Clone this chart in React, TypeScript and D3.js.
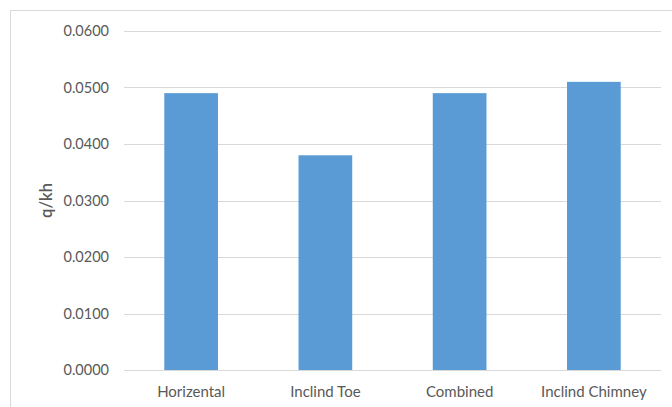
import React from "react";
import * as d3 from "d3";

const categories = ["Horizental", "Inclind Toe", "Combined", "Inclind Chimney"];
const values = [0.049, 0.038, 0.049, 0.051];
const yTicks = [0, 0.01, 0.02, 0.03, 0.04, 0.05, 0.06];
const yTitle = "q/kh";

const W = 672;
const H = 407;
const margin = { left: 124, right: 11, top: 31, bottom: 37 };

export default function App() {
  const x = d3
    .scaleBand<string>()
    .domain(categories)
    .range([margin.left, W - margin.right])
    .paddingInner(0.6)
    .paddingOuter(0.3);
  const y = d3.scaleLinear().domain([0, 0.06]).range([H - margin.bottom, margin.top]);
  const fmt = d3.format(".4f");
  const font = "Lato, 'Open Sans', sans-serif";
  const textColor = "#595959";

  return (
    <svg
      width={W}
      height={H}
      style={{ position: "absolute", left: 0, top: 0, background: "#fff" }}
      fontFamily={font}
    >
      <rect x={10.5} y={10.5} width={W + 20} height={H + 20} fill="#fff" stroke="#D9D9D9" strokeWidth={1} />
      {yTicks.map((t) => (
        <g key={t}>
          <line
            x1={margin.left}
            x2={W - margin.right}
            y1={Math.round(y(t)) + 0.5}
            y2={Math.round(y(t)) + 0.5}
            stroke="#D9D9D9"
            strokeWidth={1}
          />
          <text x={109} y={y(t)} dy="0.35em" textAnchor="end" fontSize={14.5} fill={textColor}>
            {fmt(t)}
          </text>
        </g>
      ))}
      {categories.map((c, i) => (
        <rect
          key={c}
          x={x(c)}
          y={y(values[i])}
          width={x.bandwidth()}
          height={y(0) - y(values[i])}
          fill="#5B9BD5"
        />
      ))}
      {categories.map((c) => (
        <text
          key={c}
          x={(x(c) ?? 0) + x.bandwidth() / 2}
          y={392}
          dy="0.35em"
          textAnchor="middle"
          fontSize={15}
          fill={textColor}
        >
          {c}
        </text>
      ))}
      <text
        transform={`translate(46, ${(y(0) + y(0.06)) / 2}) rotate(-90)`}
        textAnchor="middle"
        dy="0.35em"
        fontSize={16.5}
        fontWeight={600}
        fill={textColor}
      >
        {yTitle}
      </text>
    </svg>
  );
}
